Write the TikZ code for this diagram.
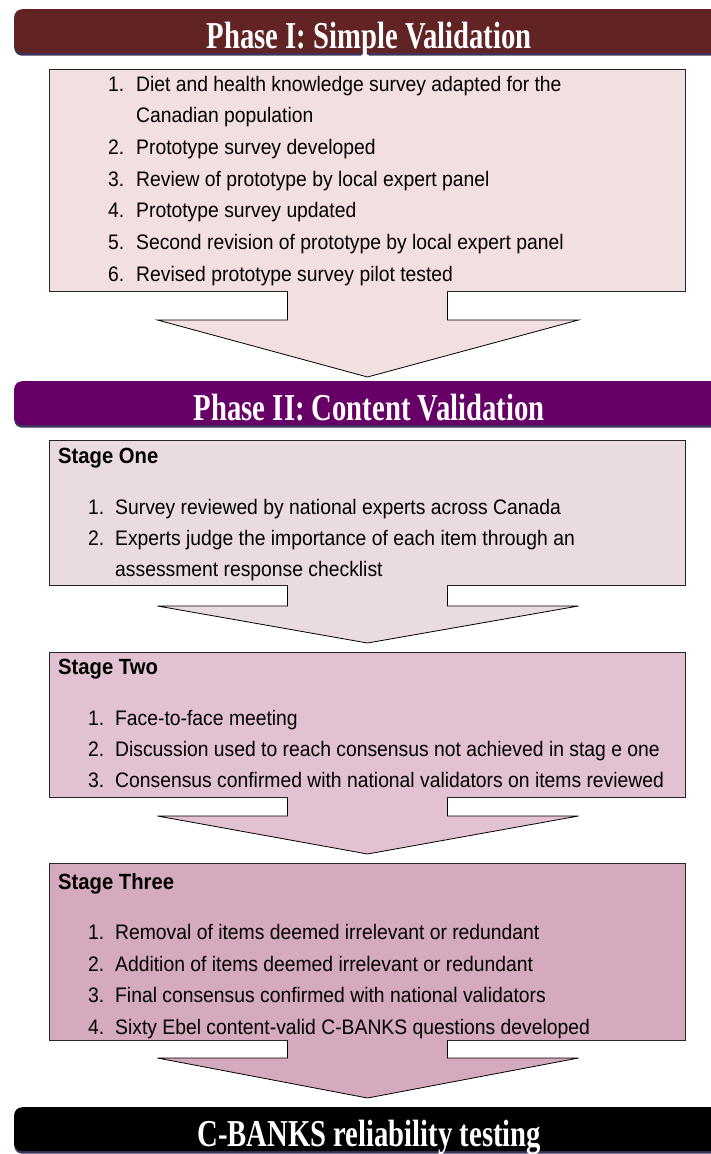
\documentclass[tikz,border=0pt]{standalone}
\usepackage{fontspec}
\setmainfont{Liberation Sans}[FakeStretch=0.92]
\newfontfamily\bannerfont[FakeStretch=0.755]{Liberation Serif}
\usetikzlibrary{calc}

\definecolor{phaseOne}{HTML}{612324}
\definecolor{phaseTwo}{HTML}{660066}
\definecolor{shade}{HTML}{3B355E}
\definecolor{fillP}{HTML}{F2DFE0}
\definecolor{fillA}{HTML}{EADAE2}
\definecolor{fillB}{HTML}{E2C2D2}
\definecolor{fillC}{HTML}{D5AABE}

\begin{document}
\begin{tikzpicture}[x=1pt,y=-1pt]
    \useasboundingbox (0,0) rectangle (711,1154);
    \clip (0,0) rectangle (711,1154);
    \tikzset{
        banner/.style = {rounded corners=8pt, minimum width=710pt, minimum height=44pt,
            anchor=north west, inner sep=0pt, text=white, text height=34pt, text depth=0pt,
            font=\bannerfont\bfseries\fontsize{38}{42}\selectfont},
        bannershade/.style = {banner, fill=shade},
        box/.style = {draw=black!85, line width=1pt, anchor=north west,
            minimum width=636pt, inner sep=0pt},
        flow/.style = {draw=black, line width=0.8pt, line join=miter},
        item/.style = {anchor=base west, inner sep=0pt, font=\fontsize{21}{25}\selectfont},
        stagehead/.style = {item, font=\bfseries\fontsize{22}{26}\selectfont}
    }

    % Phase I
    \node[bannershade] (bOneS) at (14,11.5) {};
    \node[banner, fill=phaseOne] (bOne) at (14,9) {Phase I: Simple Validation};
    \node[box, fill=fillP, minimum height=222pt] (pOne) at (49,69) {};
    \node[item] (p1) at (108,91) {\makebox[28pt][l]{1.}Diet and health knowledge survey adapted for the};
    \node[item] (p1b) at (136,122.7) {Canadian population};
    \node[item] (p2) at (108,154.4) {\makebox[28pt][l]{2.}Prototype survey developed};
    \node[item] (p3) at (108,186.1) {\makebox[28pt][l]{3.}Review of prototype by local expert panel};
    \node[item] (p4) at (108,217.8) {\makebox[28pt][l]{4.}Prototype survey updated};
    \node[item] (p5) at (108,249.5) {\makebox[28pt][l]{5.}Second revision of prototype by local expert panel};
    \node[item] (p6) at (108,281.2) {\makebox[28pt][l]{6.}Revised prototype survey pilot tested};
    \filldraw[flow, fill=fillP] ($(pOne.south)+(-80,0)$) -- ++(0,28) -- ++(-130,0)
        -- ($(pOne.south)+(0,85)$) -- ($(pOne.south)+(211,28)$) -- ++(-131,0) -- ++(0,-28);
    \fill[fillP] ($(pOne.south)+(-79.5,-1)$) rectangle ($(pOne.south)+(79.5,1)$);

    % Phase II
    \node[bannershade] (bTwoS) at (14,383.5) {};
    \node[banner, fill=phaseTwo] (bTwo) at (14,381) {Phase II: Content Validation};

    \node[box, fill=fillA, minimum height=145pt] (sOne) at (49,440) {};
    \node[stagehead] (s1h) at (58,463) {Stage One};
    \node[item] (s11) at (88,514) {\makebox[27pt][l]{1.}Survey reviewed by national experts across Canada};
    \node[item] (s12) at (88,545) {\makebox[27pt][l]{2.}Experts judge the importance of each item through an};
    \node[item] (s12b) at (115,576) {assessment response checklist};
    \filldraw[flow, fill=fillA] ($(sOne.south)+(-80,0)$) -- ++(0,20) -- ++(-130,0)
        -- ($(sOne.south)+(0,57)$) -- ($(sOne.south)+(211,20)$) -- ++(-131,0) -- ++(0,-20);
    \fill[fillA] ($(sOne.south)+(-79.5,-1)$) rectangle ($(sOne.south)+(79.5,1)$);

    \node[box, fill=fillB, minimum height=145pt] (sTwo) at (49,652) {};
    \node[stagehead] (s2h) at (58,674) {Stage Two};
    \node[item] (s21) at (88,725) {\makebox[27pt][l]{1.}Face-to-face meeting};
    \node[item] (s22) at (88,756) {\makebox[27pt][l]{2.}Discussion used to reach consensus not achieved in stag e one};
    \node[item] (s23) at (88,787) {\makebox[27pt][l]{3.}Consensus confirmed with national validators on items reviewed};
    \filldraw[flow, fill=fillB] ($(sTwo.south)+(-80,0)$) -- ++(0,18) -- ++(-130,0)
        -- ($(sTwo.south)+(0,56)$) -- ($(sTwo.south)+(211,18)$) -- ++(-131,0) -- ++(0,-18);
    \fill[fillB] ($(sTwo.south)+(-79.5,-1)$) rectangle ($(sTwo.south)+(79.5,1)$);

    \node[box, fill=fillC, minimum height=177pt] (sThree) at (49,863) {};
    \node[stagehead] (s3h) at (58,889) {Stage Three};
    \node[item] (s31) at (88,939) {\makebox[27pt][l]{1.}Removal of items deemed irrelevant or redundant};
    \node[item] (s32) at (88,971) {\makebox[27pt][l]{2.}Addition of items deemed irrelevant or redundant};
    \node[item] (s33) at (88,1002) {\makebox[27pt][l]{3.}Final consensus confirmed with national validators};
    \node[item] (s34) at (88,1034) {\makebox[27pt][l]{4.}Sixty Ebel content-valid C-BANKS questions developed};
    \filldraw[flow, fill=fillC] ($(sThree.south)+(-80,0)$) -- ++(0,17) -- ++(-130,0)
        -- ($(sThree.south)+(0,57)$) -- ($(sThree.south)+(211,17)$) -- ++(-131,0) -- ++(0,-17);
    \fill[fillC] ($(sThree.south)+(-79.5,-1)$) rectangle ($(sThree.south)+(79.5,1)$);

    % reliability
    \node[bannershade] (bThreeS) at (14,1109.5) {};
    \node[banner, fill=black] (bThree) at (14,1107) {C-BANKS reliability testing};
\end{tikzpicture}
\end{document}
